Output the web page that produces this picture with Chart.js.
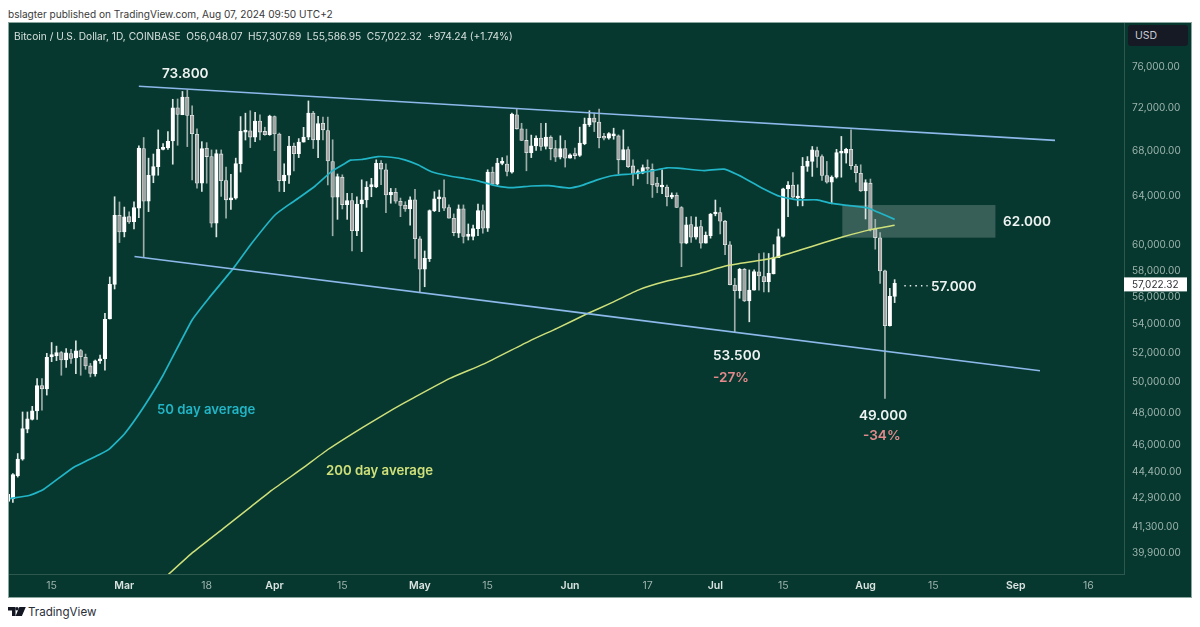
<!DOCTYPE html>
<html>
<head>
<meta charset="utf-8">
<title>Bitcoin / U.S. Dollar</title>
<script src="https://cdn.jsdelivr.net/npm/chart.js@4"></script>
<style>
  html, body { margin: 0; padding: 0; background: #fff; font-family: Inter, sans-serif; }
  body { width: 1200px; height: 627px; position: relative; overflow: hidden; }
  #publisher { position: absolute; left: 8px; top: 8px; font-size: 10.1px; color: #3a3a3a; white-space: nowrap; }
  #frame { position: absolute; left: 8px; top: 22px; width: 1184px; height: 575px; background: #06382f; }
  #frame canvas { position: absolute; left: 0; top: 0; }
  #frameEdge { position: absolute; left: 8px; top: 22px; width: 1182px; height: 574px; border: 1px solid #8aa69e; pointer-events: none; }
  #legend { position: absolute; left: 14px; top: 30px; font-size: 10.2px; color: #d7e0dd; white-space: nowrap; }
  #legend span { margin-left: 5.5px; }
  #usd { position: absolute; left: 1128px; top: 25px; width: 60px; height: 21px; background: #161a25; border-radius: 3px;
         color: #c9ccd3; font-size: 10.5px; line-height: 21px; text-indent: 7px; }
  .note { position: absolute; font-size: 13.6px; font-weight: 600; line-height: 16px; color: #eef3f1; white-space: nowrap; }
  .drop { color: #e58a8c; }
  .ma50 { color: #22b5c7; font-size: 13.2px; }
  .ma200 { color: #cfe07a; font-size: 13.2px; }
  #brand { position: absolute; left: 8px; top: 605px; height: 14px; font-size: 11.6px; color: #2a2e39; }
  #brand svg { position: absolute; left: 0; top: 2px; }
  #brand span { position: absolute; left: 20px; top: 0; line-height: 14px; }
</style>
</head>
<body>
<div id="publisher">bslagter published on TradingView.com, Aug 07, 2024 09:50 UTC+2</div>
<div id="frame"><canvas id="btcChart" width="1184" height="575"></canvas></div>
<div id="frameEdge"></div>
<div id="legend">Bitcoin / U.S. Dollar, 1D, COINBASE<span>O56,048.07</span><span>H57,307.69</span><span>L55,586.95</span><span>C57,022.32</span><span>+974.24 (+1.74%)</span></div>
<div id="usd">USD</div>

<div class="note" style="left:162px;top:65px">73.800</div>
<div class="note" style="left:1003px;top:213px">62.000</div>
<div class="note" style="left:931px;top:278px">57.000</div>
<div class="note" style="left:713px;top:347px">53.500</div>
<div class="note drop" style="left:713px;top:369px">-27%</div>
<div class="note" style="left:859px;top:407px">49.000</div>
<div class="note drop" style="left:863px;top:427px">-34%</div>
<div class="note ma50" style="left:157px;top:401px">50 day average</div>
<div class="note ma200" style="left:326px;top:462px">200 day average</div>

<div id="brand">
  <svg width="18" height="10" viewBox="0 0 18 10"><path fill="#131722" d="M0 0h7.5v9H4V3.4H0zM11.4 0h6.4l-3.9 9H7.6z"/><circle cx="9" cy="1.8" r="1.7" fill="#131722"/></svg>
  <span>TradingView</span>
</div>

<script>
// =============================
// Data
// Day 0 = Feb 6 2024, day 183 = Aug 7 2024
// =============================
const opens = [42700,42860,44180,45160,47000,47600,48150,49800,49580,51740,51790,52030,51510,51960,51650,52160,51690,51110,50570,51450,51600,54390,56950,62410,
  61050,62300,61890,63000,68200,63600,65800,66580,68120,68240,68890,71980,71320,73010,71260,69490,65130,68220,67470,61770,67710,65350,63710,63850,66850,69700,69820,69240,70730,69760,69460,
  71150,69520,65330,65830,68410,67730,68780,69230,71480,68990,70520,69850,67030,63930,65650,63310,63650,61130,63360,63710,64830,64800,66870,66300,64120,64340,63590,63250,62950,63710,
  60500,58110,58930,62800,63790,63900,63060,62170,60950,62950,60690,60690,61320,62800,61350,66100,65040,66860,66800,66100,71320,70000,68930,67820,68440,69150,68380,69230,68190,67410,68190,
  67320,67620,67570,68630,70380,71010,70630,69280,69130,69350,69350,67180,68110,66640,65950,66000,66490,66350,65140,64800,64800,63940,64100,63060,60150,61660,60620,61490,60150,60760,
  62520,62650,61930,60020,56900,56470,58100,55710,56510,57900,57540,57150,57740,59010,60680,64640,64960,63860,63860,66600,67040,68000,67480,65800,65220,65650,67770,67770,68120,66630,65990,
  64470,65130,61300,60580,57980,53910,56048.07];
const highs = [43400,44300,45500,48080,48080,48440,50260,50260,51970,52720,52470,52100,52300,52240,52840,52240,51920,51280,51510,51850,54800,57510,63970,63530,
  63100,62700,63530,68450,69200,67330,67700,69900,68650,69750,72800,72830,73560,73720,72160,70000,68820,68730,68070,68070,68070,66540,65910,67330,71150,71470,71700,71560,71320,70150,71280,
  71210,69610,66830,69300,68700,69100,70140,72640,71640,71160,71100,71100,68990,65930,65860,64260,64260,63970,65420,65270,65550,67180,67120,66830,64680,64680,63860,63550,63970,64600,
  60680,59530,62860,64400,64540,65420,63280,62530,63280,63280,61700,61610,63360,63280,66300,66540,67320,67380,67530,71480,71860,70520,69970,69420,69360,70520,70520,69360,68930,69360,68930,
  67710,68230,70160,71010,71700,71480,71860,69590,69650,70060,69440,69900,68350,67180,66290,66730,67180,66820,65630,66290,64970,64300,64300,63140,62260,62300,62260,61990,61050,62570,
  63690,63060,61990,60280,57400,58170,58170,58050,58050,59330,59380,59330,60030,61290,64700,65280,66060,64990,67390,67470,68380,68320,67620,67040,65770,68120,69300,68220,69910,66770,66740,
  65430,65490,62080,61000,58030,56650,57307.69];
const lows = [42400,42650,44100,45100,46770,47570,47600,48200,49170,51400,51470,50480,51000,51280,50590,50480,50880,50370,50420,51280,50830,54390,56600,60200,
  60650,61750,61300,62220,59060,62720,65170,65820,68060,68120,66790,68490,71320,68370,65410,64700,64420,65130,61440,60650,64000,62170,62900,63760,66100,68970,68280,68820,68970,69400,69400,
  68000,64420,64400,65120,66200,67380,68780,69000,68200,67380,68990,64980,60740,62080,62940,62080,59530,60740,59480,63080,63970,64740,65000,62640,63420,63420,62300,62740,61610,58950,
  56340,56770,58700,62720,62720,62800,62170,60740,60600,60160,60400,60400,60740,60950,61090,64980,64980,66740,65770,66000,69970,68930,66210,67380,68030,68030,68150,67180,67030,67260,66540,
  67320,67260,67480,68540,70220,69750,68240,68980,69040,69040,65950,67180,66490,64930,65490,65950,65080,63910,64310,64230,63200,63800,63060,58300,60100,60200,60470,59750,60150,60550,
  62370,60890,59230,56900,53450,55910,55660,54190,56510,56510,56380,56380,57740,59010,60630,62300,63860,63200,63200,66160,65720,66510,65370,65130,63370,65570,65650,66890,66330,65220,64420,
  62110,61130,59670,57020,48960,53880,55586.95];
const closes = [43100,44250,45160,47040,47650,48150,49800,49580,51690,51830,52030,51510,52010,51620,52140,51740,51110,50610,51450,51600,54370,56950,62410,61050,
  62280,61860,63050,68240,63600,65820,66580,68120,68300,68860,71980,71350,73010,71260,69550,65130,68190,67470,61770,67740,65350,63710,63870,66850,69760,69820,69240,70730,69700,69460,71190,
  69520,65350,65830,68410,67730,68780,69230,71480,68990,70490,69910,67090,63930,65710,63310,63650,61160,63360,63710,64800,64860,66870,66360,64120,64340,63590,63230,62950,63710,60500,
  58110,58950,62800,63790,63900,63000,62170,61000,62950,60690,60740,61320,62800,61350,66100,65040,66890,66940,66160,71380,70000,68930,67820,68440,69150,68380,69230,68190,67410,68190,67320,
  67620,67560,68690,70440,71010,70630,69180,69130,69560,69500,67180,68110,66580,65950,66150,66490,66350,64990,64860,64910,63970,64100,63060,60150,61630,60620,61460,60150,60780,62520,
  62650,61930,60020,56930,56480,58100,55710,56510,57920,57590,57150,57790,59010,60680,64640,64960,63940,63940,66600,67040,68080,67480,65800,65220,65650,67830,67860,68120,66660,66050,64470,
  65190,61210,60580,57980,53910,56048.07,57022.32];
const candleDays = opens.map((_, i) => i);

const ma50Days = [0.4,4.5,7.3,13.5,19,21,24.1,28,32,38,41.7,46.5,50.3,55.1,58.2,60.2,63.4,66.8,69.6,70.7,73,76.3,79.1,81.9,84.6,87.4,90.9,94.3,97,100.6,104,108,111.6,115.8,118.8,121.6,125,129.1,132.6,136,138.2,143.7,147.8,151.9,156,159.4,162.9,167,169.8,173.3,177.5,179.6,183];
const ma50Values = [42860,43050,43380,44670,45460,45800,46730,48400,50480,54324,56030,58170,60140,62440,63370,63930,64890,66160,66880,67150,67210,67470,67410,67180,66740,66130,65780,65540,65330,64920,64740,64890,64920,64710,64990,65420,65800,65950,66180,66470,66440,66230,66350,65590,64640,63990,63710,63710,63430,63240,63020,62660,62080];

const ma200Days = [33.1,38.2,44.4,49.9,54.4,60.9,66.1,73.3,79.5,83.7,91.2,98.1,107.7,113.3,119.4,124.3,130.4,136,142.8,148.3,158,163.5,168.3,172.4,177.6,183];
const ma200Values = [38760,39920,41190,42350,43330,44640,45760,47130,48260,48990,50270,51230,52840,53720,54750,55530,56570,57200,57780,58370,58970,59600,60180,60660,61200,61590];

const upperLineDays = [27, 216.1];
const upperLineValues = [74067, 68940];
const lowerLineDays = [26.1, 213];
const lowerLineValues = [59100, 50780];
const lastPriceDays = [185, 189.8];
const lastPriceValues = [56840, 56840];

const zoneDays = [172.2, 203.8];
const zoneValues = [60590, 63270];

const yTickValues = [76000,72000,68000,64000,60000,58000,56000,54000,52000,50000,48000,46000,44400,42900,41300,39900];
const xTickDays = [9,24,41,55,69,85,99,116,132,146,160,177,191,208,223];
const xTickLabels = ["15","Mar","18","Apr","15","May","15","Jun","17","Jul","15","Aug","15","Sep","16"];
const lastClose = 57022.32;

// =============================
// Helpers
// =============================
const toPoints = (days, values) => days.map((d, i) => ({ x: d, y: values[i] }));
const isUp = (i) => closes[i] >= opens[i];
const isMonth = (c) => c.tick && /[A-Za-z]/.test(xTickLabels[xTickDays.indexOf(c.tick.value)] || "");

// =============================
// Small plugins: price zone + last price tag
// =============================
const zonePlugin = {
  id: "zone",
  beforeDatasetsDraw(chart) {
    const { ctx, scales } = chart;
    const x0 = scales.x.getPixelForValue(zoneDays[0]);
    const x1 = scales.x.getPixelForValue(zoneDays[1]);
    const y0 = scales.y.getPixelForValue(zoneValues[1]);
    const y1 = scales.y.getPixelForValue(zoneValues[0]);
    ctx.save();
    ctx.fillStyle = "rgba(255,255,255,0.2)";
    ctx.fillRect(x0, y0, x1 - x0, y1 - y0);
    ctx.restore();
  },
};

const priceTagPlugin = {
  id: "priceTag",
  afterDraw(chart) {
    const { ctx, scales } = chart;
    const y = scales.y.getPixelForValue(lastClose) + 1;
    ctx.save();
    ctx.fillStyle = "#ffffff";
    ctx.fillRect(scales.y.left, y - 7, 63, 14);
    ctx.fillStyle = "#2f3136";
    ctx.font = "10px Inter";
    ctx.textBaseline = "middle";
    ctx.fillText(lastClose.toLocaleString("en-US"), scales.y.left + 8, y + 0.5);
    ctx.restore();
  },
};

// =============================
// Chart
// =============================
const lineDefaults = { type: "line", pointRadius: 0, tension: 0.15, order: 0 };

new Chart(document.getElementById("btcChart"), {
  type: "bar",
  data: {
    datasets: [
      {
        label: "Upper channel",
        ...lineDefaults,
        data: toPoints(upperLineDays, upperLineValues),
        borderColor: "#8db8ea",
        borderWidth: 1.6,
      },
      {
        label: "Lower channel",
        ...lineDefaults,
        data: toPoints(lowerLineDays, lowerLineValues),
        borderColor: "#8db8ea",
        borderWidth: 1.6,
      },
      {
        label: "50 day average",
        ...lineDefaults,
        data: toPoints(ma50Days, ma50Values),
        borderColor: "#22b5c7",
        borderWidth: 1.7,
      },
      {
        label: "200 day average",
        ...lineDefaults,
        data: toPoints(ma200Days, ma200Values),
        borderColor: "#cfe07a",
        borderWidth: 1.5,
      },
      {
        label: "Last price",
        ...lineDefaults,
        data: toPoints(lastPriceDays, lastPriceValues),
        borderColor: "#e8efec",
        borderWidth: 1.5,
        borderDash: [1.5, 4],
      },
      {
        label: "Bodies",
        data: candleDays.map((d, i) => ({ x: d, y: [opens[i], closes[i]] })),
        backgroundColor: candleDays.map((i) => (isUp(i) ? "#ffffff" : "#a2a4a4")),
        borderColor: candleDays.map((i) => (isUp(i) ? "#ffffff" : "#e2e5e4")),
        borderWidth: 0.8,
        borderSkipped: false,
        barThickness: 3.6,
        minBarLength: 2,
        grouped: false,
        order: 1,
      },
      {
        label: "Wicks",
        data: candleDays.map((d, i) => ({ x: d, y: [lows[i], highs[i]] })),
        backgroundColor: candleDays.map((i) => (isUp(i) ? "#dfe5e3" : "#9fadaa")),
        barThickness: 1,
        grouped: false,
        order: 2,
      },
    ],
  },
  options: {
    responsive: false,
    animation: false,
    layout: { padding: { left: 1 } },
    plugins: {
      legend: { display: false },
      tooltip: { enabled: false },
    },
    scales: {
      x: {
        type: "linear",
        offset: false,
        min: 0.2,
        max: 230.34,
        bounds: "data",
        grid: { display: false, drawTicks: false },
        border: { color: "#2d584e" },
        afterFit: (axis) => { axis.height = 23; axis.paddingLeft = 0; axis.paddingRight = 0; },
        afterBuildTicks: (axis) => { axis.ticks = xTickDays.map((d) => ({ value: d })); },
        ticks: {
          autoSkip: false,
          maxRotation: 0,
          padding: 6,
          color: (c) => (isMonth(c) ? "#dbe4e1" : "#9db3ad"),
          font: (c) => ({ family: "Inter", size: 10.5, weight: isMonth(c) ? "600" : "400" }),
          callback: (value) => xTickLabels[xTickDays.indexOf(value)],
        },
      },
      y: {
        type: "logarithmic",
        position: "right",
        min: 38780,
        max: 80660,
        bounds: "data",
        grid: { display: false, drawTicks: false },
        border: { color: "#2d584e" },
        afterFit: (axis) => { axis.width = 68; axis.paddingTop = 0; axis.paddingBottom = 0; },
        afterBuildTicks: (axis) => { axis.ticks = yTickValues.map((v) => ({ value: v })); },
        ticks: {
          autoSkip: false,
          padding: 8,
          color: "#9db3ad",
          font: { family: "Inter", size: 10 },
          callback: (value) => Number(value).toLocaleString("en-US", { minimumFractionDigits: 2 }),
        },
      },
    },
  },
  plugins: [zonePlugin, priceTagPlugin],
});
</script>
</body>
</html>
